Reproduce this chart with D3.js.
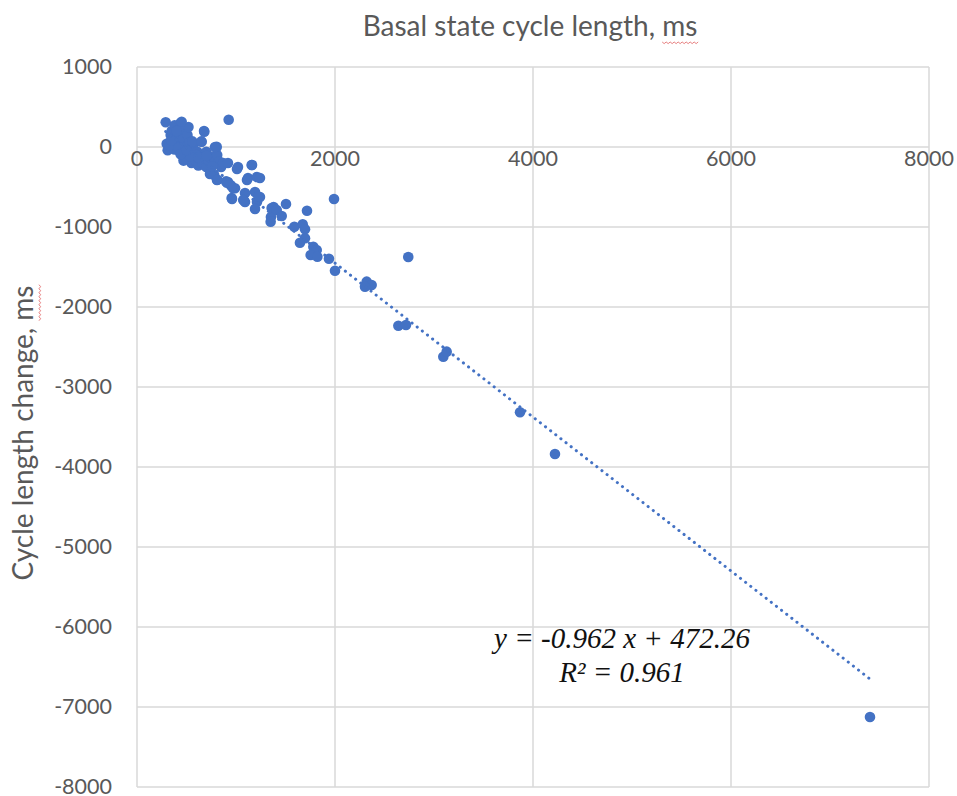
<!DOCTYPE html>
<html><head><meta charset="utf-8">
<script src="https://cdn.jsdelivr.net/npm/d3@7"></script>
<style>body{margin:0;background:#fff}svg{display:block}</style>
</head><body>
<script>
// Basal state cycle length (ms)
const basalX = [
 290,300,310,330,340,350,360,370,380,390,400,410,420,430,440,450,455,460,470,480,
 490,500,510,520,530,540,550,560,570,580,600,610,620,640,650,660,680,690,700,720,
 740,760,780,800,810,830,850,870,780,810,900,950,926,520,470,430,380,330,600,560,
 700,451,677,653,805,788,737,919,1020,1162,1121,1212,919,956,1091,1192,1091,1212,
 1010,808,909,990,1111,1242,960,1077,1242,1192,1380,1505,1717,1990,1353,1158,970,
 1074,1226,1360,1411,1462,1350,1589,1674,1697,1697,1646,1781,1815,1754,1822,1939,
 2000,2740,2320,2370,2303,2640,2717,3094,3128,3869,4222,7404,
 350,420,480,540,620,700,760,400,440,500
];
// Cycle length change (ms)
const changeY = [
 310,40,-40,60,150,200,100,0,270,150,60,-20,240,120,300,190,30,-60,100,220,
 -100,10,150,-150,60,-30,-200,-80,20,-120,-180,-60,-230,-150,70,-200,190,-100,-250,-170,
 -120,-200,-150,-10,-100,-180,-250,-200,-350,-410,-430,-480,340,250,-170,-50,-30,20,-100,70,
 -60,316,200,66,4,0,-337,-200,-250,-225,-387,-375,-437,-637,-575,-562,-687,-687,
 -275,-412,-446,-516,-412,-387,-650,-662,-625,-775,-750,-712,-796,-650,-875,-225,-516,
 -662,-621,-762,-787,-862,-933,-996,-966,-1029,-1141,-1196,-1246,-1287,-1350,-1371,-1396,
 -1546,-1375,-1683,-1725,-1746,-2234,-2225,-2621,-2558,-3316,-3837,-7125,
 80,-10,-60,-120,-130,-110,-240,200,-90,-40
];
const xTicks = [0,2000,4000,6000,8000];
const yTicks = [1000,0,-1000,-2000,-3000,-4000,-5000,-6000,-7000,-8000];
const slope = -0.962, intercept = 472.26;
const titleText = "Basal state cycle length, ms";
const yLabelText = "Cycle length change, ms";
const eqText = "y = -0.962 x + 472.26";
const r2Text = "R² = 0.961";

const W = 957, H = 796;
const svg = d3.select("body").append("svg").attr("width", W).attr("height", H);
const x = d3.scaleLinear().domain([0,8000]).range([137,929]);
const y = d3.scaleLinear().domain([-8000,1000]).range([787,67]);
const grid = "#D9D9D9", txt = "#595959", blue = "#4472C4";
const font = "Lato, 'Open Sans', sans-serif";

// grid
svg.append("g").selectAll("line").data(yTicks).join("line")
  .attr("x1", x(0)).attr("x2", x(8000)).attr("y1", d=>y(d)).attr("y2", d=>y(d))
  .attr("stroke", grid).attr("stroke-width", 1.5);
svg.append("g").selectAll("line").data(xTicks).join("line")
  .attr("y1", y(1000)).attr("y2", y(-8000)).attr("x1", d=>x(d)).attr("x2", d=>x(d))
  .attr("stroke", grid).attr("stroke-width", 1.5);

// y tick labels
svg.append("g").selectAll("text").data(yTicks).join("text")
  .attr("x", 112).attr("y", d=>y(d)).attr("dy", "0.34em")
  .attr("text-anchor", "end").attr("font-family", font).attr("font-size", 21.5)
  .attr("fill", txt).text(d=>d);
// x tick labels (at y=0)
svg.append("g").selectAll("text").data(xTicks).join("text")
  .attr("x", d=>x(d)).attr("y", y(0) + 11).attr("dy", "0.36em")
  .attr("text-anchor", "middle").attr("font-family", font).attr("font-size", 21.5)
  .attr("fill", txt).text(d=>d);

// points
const pts = basalX.map((v,i)=>[v, changeY[i]]);
svg.append("g").selectAll("circle").data(pts).join("circle")
  .attr("cx", d=>x(d[0])).attr("cy", d=>y(d[1])).attr("r", 5.3).attr("fill", blue);

// trend line
const x0 = d3.min(basalX), x1 = d3.max(basalX);
svg.append("line")
  .attr("x1", x(x0)).attr("y1", y(slope*x0+intercept))
  .attr("x2", x(x1)).attr("y2", y(slope*x1+intercept))
  .attr("stroke", blue).attr("stroke-width", 3).attr("stroke-linecap", "round")
  .attr("stroke-dasharray", "0.1 6.4");

// title
const title = svg.append("text").attr("x", 530).attr("y", 36).attr("text-anchor", "middle")
  .attr("font-family", font).attr("font-size", 28).attr("fill", txt).text(titleText);
// y label
const ylab = svg.append("g").attr("transform", "translate(33,433) rotate(-90)");
const ylabT = ylab.append("text").attr("text-anchor", "middle")
  .attr("font-family", font).attr("font-size", 28).attr("fill", txt).text(yLabelText);

// red spell-check squiggle under "ms"
function squiggle(parent, textNode, str, baseY, ox) {
  const n = textNode.node();
  const total = n.getComputedTextLength();
  const start = n.getSubStringLength(str.length - 2, 2);
  const x2 = ox + total / 2, x1s = x2 - start;
  let d = "M" + x1s + "," + baseY;
  for (let xx = x1s, k = 0; xx < x2; xx += 2, k++) d += "L" + (xx + 2) + "," + (baseY + (k % 2 ? 0 : 1.6));
  parent.append("path").attr("d", d).attr("fill", "none").attr("stroke", "#E06060").attr("stroke-width", 0.8);
}
squiggle(svg, title, titleText, 42, 530);
squiggle(ylab, ylabT, yLabelText, 6, 0);

// equation
svg.append("text").attr("x", 622).attr("y", 648).attr("text-anchor", "middle")
  .attr("font-family", "'Liberation Serif', serif").attr("font-style", "italic")
  .attr("font-size", 29).attr("fill", "#111").text(eqText);
svg.append("text").attr("x", 622).attr("y", 682).attr("text-anchor", "middle")
  .attr("font-family", "'Liberation Serif', serif").attr("font-style", "italic")
  .attr("font-size", 29).attr("fill", "#111").text(r2Text);
</script>
</body></html>
